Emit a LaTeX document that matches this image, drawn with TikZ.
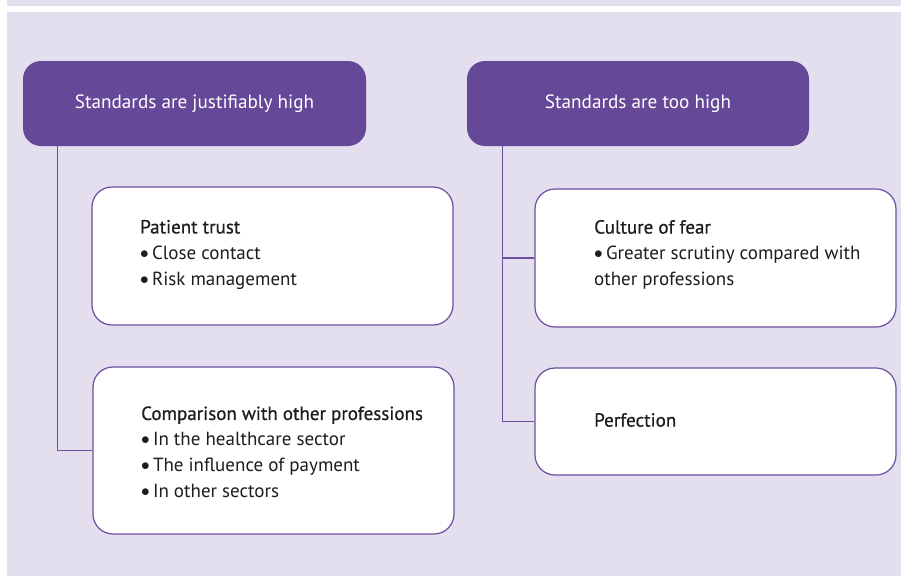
\documentclass[tikz,border=0pt]{standalone}
\usepackage{fontspec}
\setmainfont{PT Sans}
\newfontface\moyen{PT Sans}[FakeBold=0.7]
\usepackage{tikz}

\definecolor{fond}{HTML}{E3DFEF}
\definecolor{violet}{HTML}{654897}
\definecolor{trait}{HTML}{6B4E9E}
\definecolor{encre}{HTML}{1D1D1B}

\newcommand{\puce}{\raisebox{0.1ex}{$\bullet$}\,}

\tikzset{
  titre/.style={fill=violet, draw=none, rounded corners=18pt, text=white,
    minimum height=85pt, font=\fontsize{19.2}{22}\selectfont},
  boite/.style={fill=white, draw=trait, line width=1.2pt, rounded corners=20pt},
  texte/.style={anchor=west, align=left, text=encre, inner sep=0pt,
    font=\fontsize{19}{25.8}\selectfont},
  lien/.style={draw=trait, line width=1.4pt}
}

\begin{document}
\begin{tikzpicture}[x=1pt, y=-1pt]
    \useasboundingbox (0, 0) rectangle (901, 576);

    % fond
    \draw[fill=fond, draw=none] (7, 0) rectangle (901, 5.5);
    \draw[fill=fond, draw=none] (7, 12) rectangle (901, 576);

    % titres
    \node[titre, minimum width=343pt] (gauche) at (194.5, 103.5) {Standards are justifiably high};
    \node[titre, minimum width=342pt] (droite) at (638, 103.5) {Standards are too high};

    % boites
    \node[boite, minimum width=361pt, minimum height=138pt] (confiance) at (272.5, 256) {};
    \node[boite, minimum width=361pt, minimum height=167pt] (comparaison) at (273.5, 450.5) {};
    \node[boite, minimum width=361pt, minimum height=138pt] (peur) at (715.5, 258) {};
    \node[boite, minimum width=361pt, minimum height=107pt] (perfection) at (715.5, 421.5) {};

    % textes
    \node[texte] (t1) at (140, 254.5) {{\moyen Patient trust}\\\puce Close contact\\\puce Risk management};
    \node[texte] (t2) at (141, 452) {{\moyen Comparison with other professions}\\\puce In the healthcare sector\\\puce The influence of payment\\\puce In other sectors};
    \node[texte] (t3) at (594, 254.5) {{\moyen Culture of fear}\\\puce Greater scrutiny compared with\\other professions};
    \node[texte] (t4) at (594, 420) {{\moyen Perfection}};

    % liens
    \coordinate (tronc1) at ([xshift=34.5pt]gauche.south west);
    \coordinate (tronc2) at ([xshift=35.5pt]droite.south west);
    \draw[lien] (tronc1) |- (comparaison.west);
    \draw[lien] (tronc2) |- (perfection.west);
    \draw[lien] (peur.west) -- (peur.west -| tronc2);

  \end{tikzpicture}
\end{document}
